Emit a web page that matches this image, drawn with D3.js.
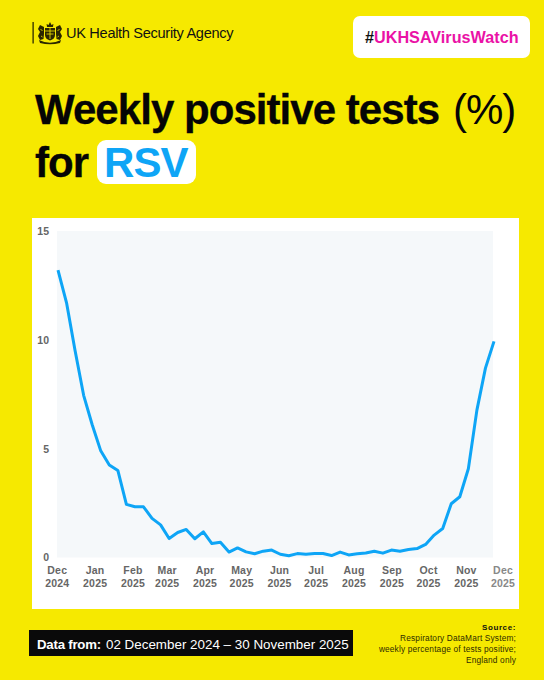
<!DOCTYPE html>
<html>
<head>
<meta charset="utf-8">
<script src="https://cdn.jsdelivr.net/npm/d3@7"></script>
<style>
  html, body { margin: 0; padding: 0; background: #f6e900; }
  svg { display: block; font-family: "Liberation Sans", Arial, sans-serif; }
</style>
</head>
<body>
<div id="chart"></div>
<script>
const weeks = [
  "2024-12-02", "2024-12-09", "2024-12-16", "2024-12-23", "2024-12-30",
  "2025-01-06", "2025-01-13", "2025-01-20", "2025-01-27",
  "2025-02-03", "2025-02-10", "2025-02-17", "2025-02-24",
  "2025-03-03", "2025-03-10", "2025-03-17", "2025-03-24", "2025-03-31",
  "2025-04-07", "2025-04-14", "2025-04-21", "2025-04-28",
  "2025-05-05", "2025-05-12", "2025-05-19", "2025-05-26",
  "2025-06-02", "2025-06-09", "2025-06-16", "2025-06-23", "2025-06-30",
  "2025-07-07", "2025-07-14", "2025-07-21", "2025-07-28",
  "2025-08-04", "2025-08-11", "2025-08-18", "2025-08-25",
  "2025-09-01", "2025-09-08", "2025-09-15", "2025-09-22", "2025-09-29",
  "2025-10-06", "2025-10-13", "2025-10-20", "2025-10-27",
  "2025-11-03", "2025-11-10", "2025-11-17", "2025-11-24"
];
const positivity = [
  13.2, 11.7, 9.5, 7.45, 6.1,
  4.9, 4.25, 4.0, 2.44,
  2.33, 2.33, 1.8, 1.5,
  0.87, 1.15, 1.29, 0.86, 1.18,
  0.64, 0.7, 0.25, 0.44,
  0.26, 0.17, 0.29, 0.34,
  0.15, 0.08, 0.18, 0.15, 0.18,
  0.18, 0.09, 0.25, 0.12,
  0.17, 0.21, 0.29, 0.2,
  0.34, 0.29, 0.37, 0.41, 0.6,
  1.03, 1.33, 2.47, 2.79,
  4.08, 6.77, 8.7, 9.93
];
const monthTicks = [
  "2024-12-01", "2025-01-01", "2025-02-01", "2025-03-01", "2025-04-01", "2025-05-01",
  "2025-06-01", "2025-07-01", "2025-08-01", "2025-09-01", "2025-10-01", "2025-11-01", "2025-12-01"
];
const yTicks = [0, 5, 10, 15];

const width = 544;
const height = 680;
const yellow = "#f6e900";
const blue = "#0ea5f6";

const parseDay = d3.utcParse("%Y-%m-%d");
const data = weeks.map((w, i) => ({ date: parseDay(w), value: positivity[i] }));

const svg = d3.select("#chart").append("svg")
  .attr("width", width)
  .attr("height", height)
  .attr("viewBox", [0, 0, width, height]);

svg.append("rect").attr("width", width).attr("height", height).attr("fill", yellow);

// header: logo and hashtag
svg.append("rect").attr("x", 32.5).attr("y", 22).attr("width", 1.2).attr("height", 21.5).attr("fill", "#1a1a00");

// rough royal crest: crown, shield, two supporters, motto scroll
const crest = svg.append("g").attr("transform", "translate(50,33)").attr("fill", "#2b2700");
crest.append("path").attr("d", "M-3 -6L-3.4 -9L-1.5 -8L0 -11L1.5 -8L3.4 -9L3 -6Z");
crest.append("path").attr("d", "M-5 -5H5V2Q5 6 0 7.5Q-5 6 -5 2Z");
crest.append("path").attr("d", "M-6 -6L-10 -8L-12 -4L-10 -1L-12 3L-10 7L-6.5 6L-6 1Z");
crest.append("path").attr("d", "M6 -6L10 -8L12 -4L10 -1L12 3L10 7L6.5 6L6 1Z");
crest.append("path").attr("d", "M-11 7Q0 12.5 11 7L10 10Q0 12.5 -10 10Z");
crest.append("path").attr("d", "M-5 -2H5M0 -5V6M-3.5 1H3.5M-9.5 -4L-7.5 -2M9.5 -4L7.5 -2M-9 3L-7.5 4M9 3L7.5 4")
  .attr("stroke", yellow).attr("stroke-width", 0.8).attr("fill", "none");

svg.append("text").attr("x", 66).attr("y", 38)
  .attr("font-size", 14.6).attr("fill", "#111").attr("letter-spacing", -0.32)
  .text("UK Health Security Agency");

svg.append("rect").attr("x", 353).attr("y", 16).attr("width", 177).attr("height", 42).attr("rx", 7).attr("fill", "#fff");
const tag = svg.append("text").attr("x", 365).attr("y", 42.5).attr("font-size", 16.2).attr("font-weight", 700);
tag.append("tspan").attr("fill", "#111").text("#");
tag.append("tspan").attr("fill", "#ea12a6").text("UKHSAVirusWatch");

// title
const titleSize = 42;
const titleSpacing = -0.95;
const titleColor = "#050505";
svg.append("text").attr("x", 35).attr("y", 123.5)
  .attr("font-size", titleSize).attr("font-weight", 700).attr("letter-spacing", titleSpacing)
  .attr("fill", titleColor).attr("stroke", titleColor).attr("stroke-width", 0.3)
  .text("Weekly positive tests");
svg.append("text").attr("x", 453).attr("y", 123.5)
  .attr("font-size", titleSize).attr("letter-spacing", -1).attr("fill", titleColor)
  .text("(%)");

svg.append("text").attr("x", 35).attr("y", 176.7)
  .attr("font-size", titleSize).attr("font-weight", 700).attr("letter-spacing", titleSpacing)
  .attr("fill", titleColor).attr("stroke", titleColor).attr("stroke-width", 0.3)
  .text("for");
svg.append("rect").attr("x", 97).attr("y", 140).attr("width", 99).attr("height", 44).attr("rx", 9).attr("fill", "#fff");
svg.append("text").attr("x", 104).attr("y", 176.7)
  .attr("font-size", titleSize).attr("font-weight", 700).attr("letter-spacing", titleSpacing)
  .attr("fill", blue)
  .text("RSV");

// chart panel
svg.append("rect").attr("x", 32).attr("y", 218).attr("width", 487).attr("height", 391).attr("fill", "#fff");

const plotLeft = 57, plotRight = 493, plotTop = 231, plotBottom = 557.5;
svg.append("rect").attr("x", plotLeft).attr("y", plotTop)
  .attr("width", plotRight - plotLeft).attr("height", plotBottom - plotTop).attr("fill", "#f5f8fa");

const x = d3.scaleUtc()
  .domain(d3.extent(data, d => d.date))
  .range([58, 494]);

const y = d3.scaleLinear()
  .domain([0, 15])
  .range([plotBottom, plotTop]);

svg.append("g")
  .attr("transform", `translate(${plotLeft},0)`)
  .call(d3.axisLeft(y).tickValues(yTicks).tickSize(0).tickPadding(8))
  .call(g => g.select(".domain").remove())
  .call(g => g.selectAll("text")
    .attr("font-family", "Liberation Sans, Arial, sans-serif")
    .attr("font-size", 10.5).attr("font-weight", 700).attr("fill", "#666"));

svg.append("g")
  .attr("transform", `translate(0,${plotBottom})`)
  .call(d3.axisBottom(x).tickValues(monthTicks.map(parseDay)).tickSize(0).tickFormat(""))
  .call(g => g.select(".domain").remove())
  .call(g => g.selectAll(".tick text").each(function(d, i) {
    const last = i === monthTicks.length - 1;
    const label = d3.select(this)
      .attr("dy", null)
      .attr("font-family", "Liberation Sans, Arial, sans-serif")
      .attr("font-size", 10.5)
      .attr("font-weight", 700)
      .attr("letter-spacing", 0.2)
      .attr("fill", last ? "#888" : "#666");
    label.append("tspan").attr("x", 0).attr("y", 16.5).text(d3.utcFormat("%b")(d));
    label.append("tspan").attr("x", 0).attr("y", 29).text(d3.utcFormat("%Y")(d));
  }));

const line = d3.line()
  .x(d => x(d.date))
  .y(d => y(d.value));

svg.append("path")
  .datum(data)
  .attr("fill", "none")
  .attr("stroke", blue)
  .attr("stroke-width", 3)
  .attr("stroke-linejoin", "round")
  .attr("d", line);

// footer
svg.append("rect").attr("x", 29).attr("y", 630).attr("width", 324).attr("height", 26).attr("fill", "#0a0a0a");
svg.append("text").attr("x", 37).attr("y", 649).attr("font-size", 13.2).attr("font-weight", 700)
  .attr("letter-spacing", -0.2).attr("fill", "#fff").text("Data from:");
svg.append("text").attr("x", 106).attr("y", 649).attr("font-size", 13.4).attr("fill", "#fff")
  .text("02 December 2024 \u2013 30 November 2025");

const sourceLines = ["Respiratory DataMart System;", "weekly percentage of tests positive;", "England only"];
svg.append("text").attr("x", 516).attr("y", 630).attr("text-anchor", "end")
  .attr("font-size", 8).attr("font-weight", 700).attr("letter-spacing", 0.6).attr("fill", "#111").text("Source:");
svg.selectAll("text.source")
  .data(sourceLines)
  .join("text")
  .attr("class", "source")
  .attr("x", 516)
  .attr("y", (d, i) => 641 + i * 11)
  .attr("text-anchor", "end")
  .attr("font-size", 8.3)
  .attr("letter-spacing", 0.17)
  .attr("fill", "#2e2c00")
  .text(d => d);
</script>
</body>
</html>
